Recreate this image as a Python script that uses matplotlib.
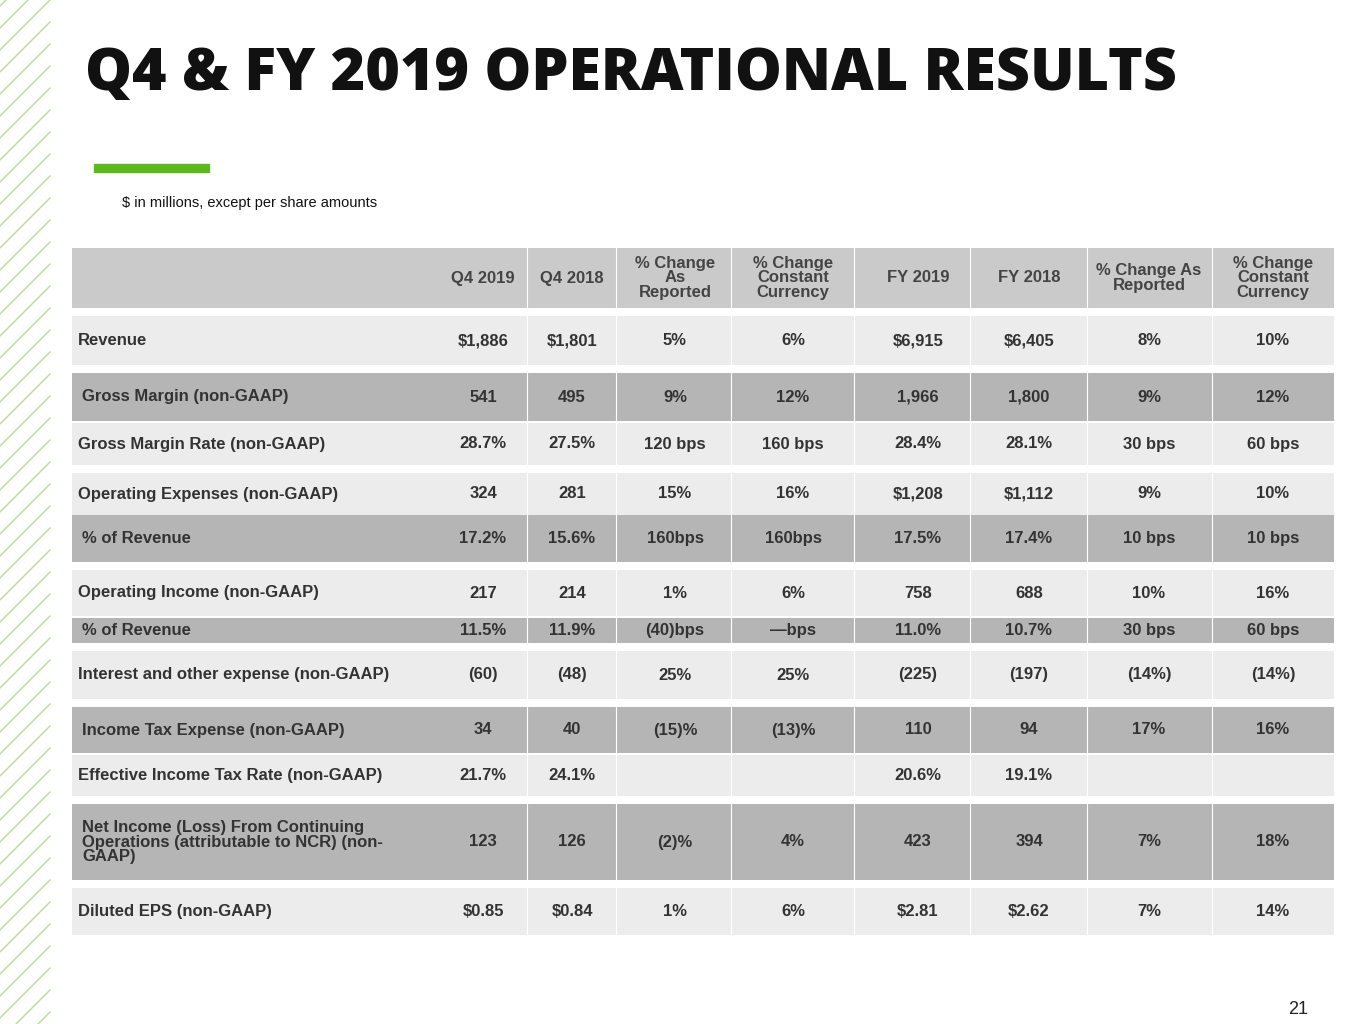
import matplotlib
matplotlib.use("Agg")
import matplotlib.pyplot as plt
from matplotlib.patches import Rectangle

W, H = 1365, 1024
fig = plt.figure(figsize=(W/100, H/100), dpi=100)
ax = fig.add_axes([0, 0, 1, 1])
ax.set_xlim(0, W); ax.set_ylim(H, 0); ax.axis('off')
fig.patch.set_facecolor('white')

title = "Q4 & FY 2019 OPERATIONAL RESULTS"
subtitle = "$ in millions, except per share amounts"
headers = ["Q4 2019", "Q4 2018", "% Change\nAs\nReported", "% Change\nConstant\nCurrency",
           "FY 2019", "FY 2018", "% Change As\nReported", "% Change\nConstant\nCurrency"]
labels = ["Revenue", "Gross Margin (non-GAAP)", "Gross Margin Rate (non-GAAP)",
          "Operating Expenses (non-GAAP)", "% of Revenue", "Operating Income (non-GAAP)",
          "% of Revenue", "Interest and other expense (non-GAAP)", "Income Tax Expense (non-GAAP)",
          "Effective Income Tax Rate (non-GAAP)",
          "Net Income (Loss) From Continuing\nOperations (attributable to NCR) (non-\nGAAP)",
          "Diluted EPS (non-GAAP)"]
values = [
    ["$1,886", "$1,801", "5%", "6%", "$6,915", "$6,405", "8%", "10%"],
    ["541", "495", "9%", "12%", "1,966", "1,800", "9%", "12%"],
    ["28.7%", "27.5%", "120 bps", "160 bps", "28.4%", "28.1%", "30 bps", "60 bps"],
    ["324", "281", "15%", "16%", "$1,208", "$1,112", "9%", "10%"],
    ["17.2%", "15.6%", "160bps", "160bps", "17.5%", "17.4%", "10 bps", "10 bps"],
    ["217", "214", "1%", "6%", "758", "688", "10%", "16%"],
    ["11.5%", "11.9%", "(40)bps", "\u2014bps", "11.0%", "10.7%", "30 bps", "60 bps"],
    ["(60)", "(48)", "25%", "25%", "(225)", "(197)", "(14%)", "(14%)"],
    ["34", "40", "(15)%", "(13)%", "110", "94", "17%", "16%"],
    ["21.7%", "24.1%", "", "", "20.6%", "19.1%", "", ""],
    ["123", "126", "(2)%", "4%", "423", "394", "7%", "18%"],
    ["$0.85", "$0.84", "1%", "6%", "$2.81", "$2.62", "7%", "14%"],
]
dark_rows = [1, 4, 6, 8, 10]
indent_rows = [1, 4, 6, 8, 10]

row_bounds = [(316, 365), (373, 421), (423, 465), (473, 515), (515, 562), (570, 616),
              (618, 643), (651, 699), (707, 753), (755, 796), (804, 880), (888, 935)]
col_x = [483, 572, 675, 793, 918, 1029, 1149, 1273]
seps = [527, 616, 731, 854, 970, 1087, 1212]
x0, x1 = 72, 1334

for i in range(-5, 50):
    y = i * 22
    ax.plot([0, 50], [y + 50, y], color='#a5d27a', lw=1.0, alpha=0.8)
ax.add_patch(Rectangle((50, 0), 8, H, color='white', zorder=1))

ax.text(85, 75, title, fontsize=42.5, fontweight='heavy', family='Open Sans', va='center', ha='left', color='#111111')
ax.add_patch(Rectangle((94, 164), 115, 8, color='#5cb81c'))
ax.text(122, 203, subtitle, fontsize=10.5, family='Liberation Sans', va='center', color='#111111')

fs = 12
fam = 'Liberation Sans'
ax.add_patch(Rectangle((x0, 248), x1 - x0, 60, color='#cacaca', lw=0))
for cx, h in zip(col_x, headers):
    ax.text(cx, 278, h, fontsize=fs, fontweight='bold', family=fam, ha='center', va='center',
            color='#444444', linespacing=0.95)
for s in seps:
    ax.plot([s, s], [248, 308], color='white', lw=0.8)

for i, (lab, vals, (t, b)) in enumerate(zip(labels, values, row_bounds)):
    dark = i in dark_rows
    ax.add_patch(Rectangle((x0, t), x1 - x0, b - t, color='#b5b5b5' if dark else '#ececec', lw=0))
    yc = (t + b) / 2
    lx = 82 if i in indent_rows else 78
    ax.text(lx, yc, lab, fontsize=fs, fontweight='bold', family=fam, ha='left', va='center',
            color='#333333', linespacing=0.95)
    for cx, v in zip(col_x, vals):
        ax.text(cx, yc, v, fontsize=fs, fontweight='bold', family=fam, ha='center', va='center', color='#333333')
    for s in seps:
        ax.plot([s, s], [t, b], color='white', lw=0.8)

ax.text(1298, 1010, "21", fontsize=13, family=fam, ha='center', va='center', color='#222222')
fig.savefig("out.png", dpi=100)
